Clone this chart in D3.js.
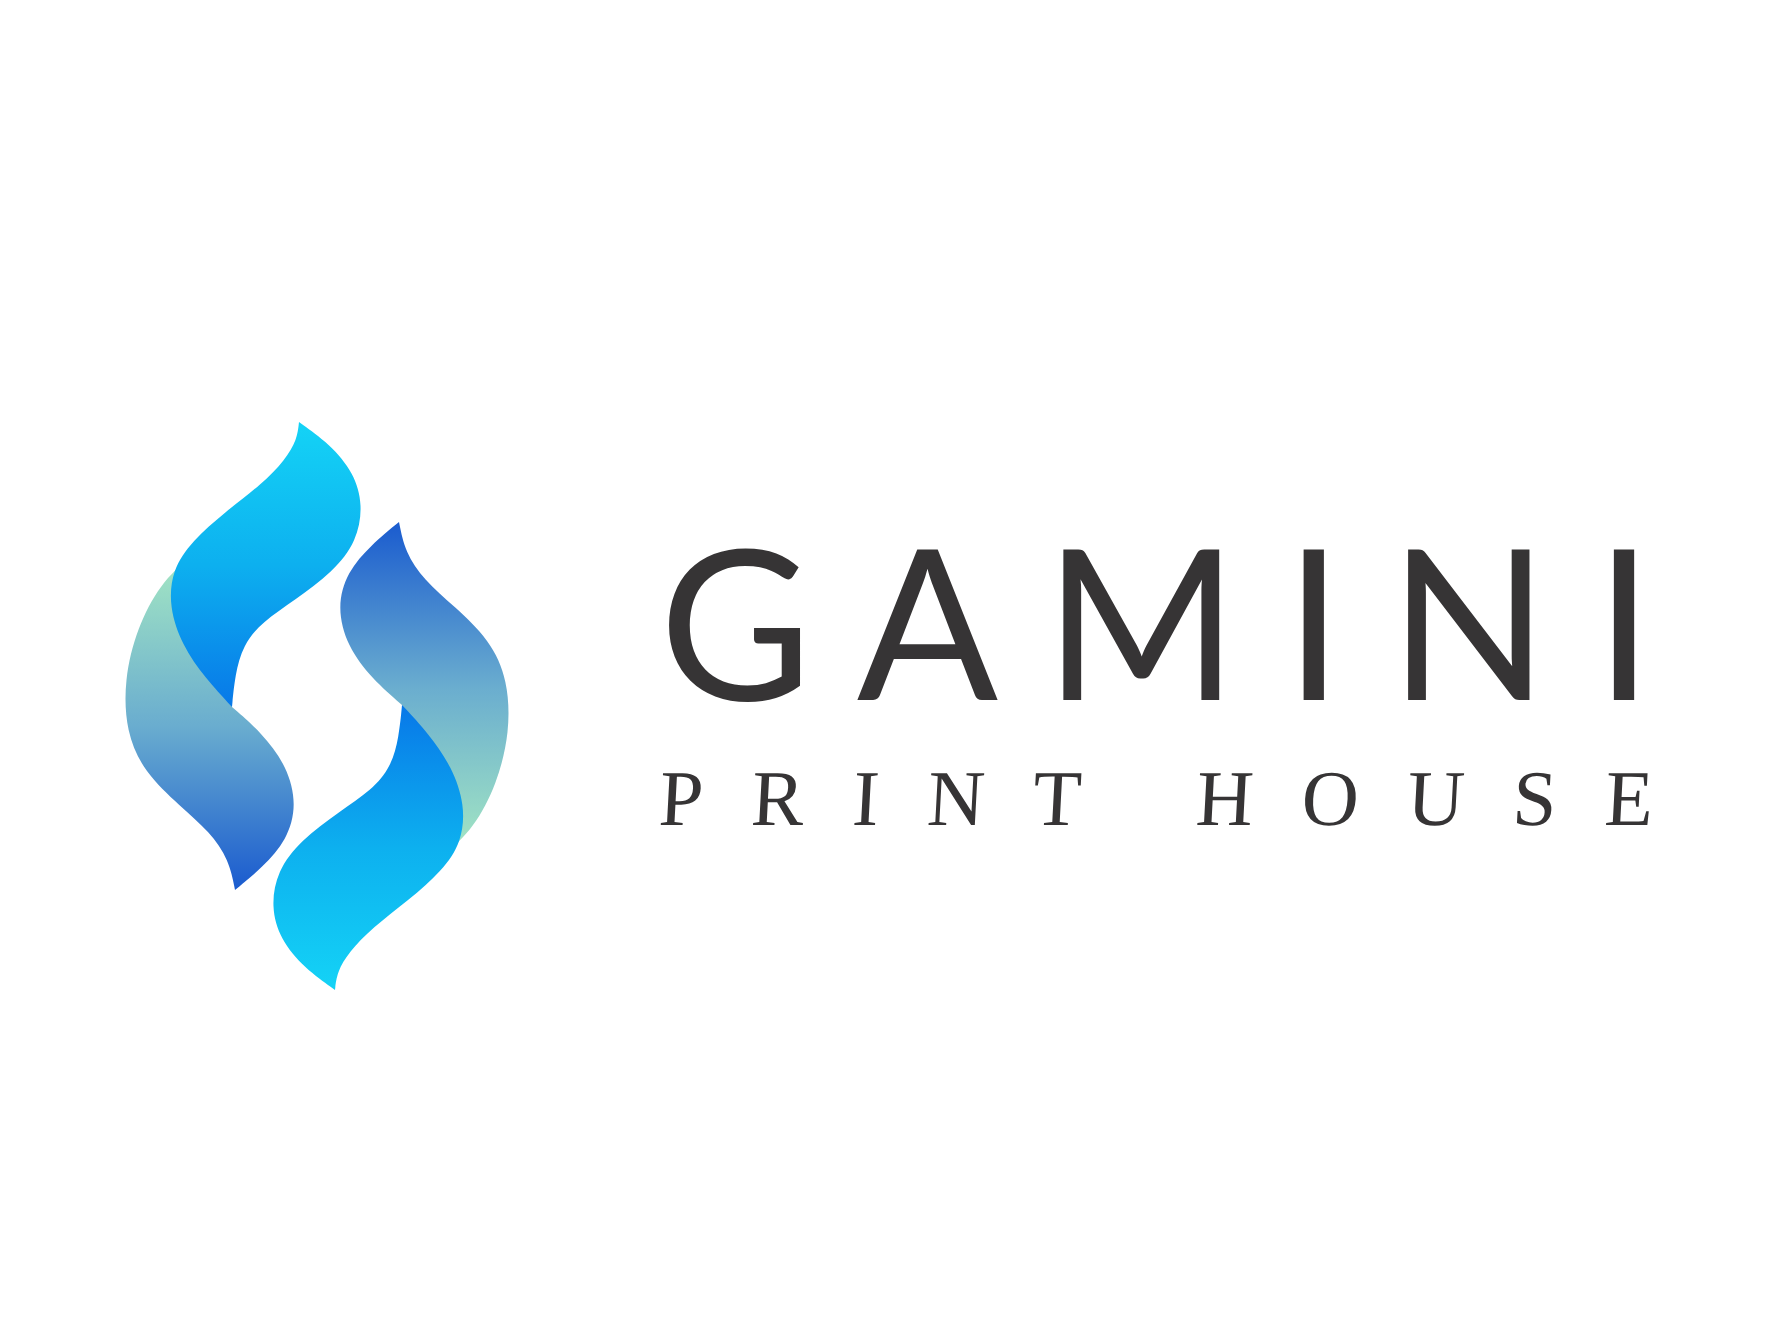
<!DOCTYPE html>
<html>
<head>
<meta charset="utf-8">
<title>Gamini Print House</title>
<script src="https://cdn.jsdelivr.net/npm/d3@7"></script>
<style>
  html, body { margin: 0; padding: 0; background: #fff; }
  svg { display: block; }
</style>
</head>
<body>
<svg id="logo"></svg>
<script>
// brand text
const brandName = "GAMINI";
const tagline = "PRINT HOUSE";

// leaf outlines (front leaf = cyan, back leaf = green/blue); the other pair is the same leaves turned 180deg
const frontRight = [[299,422],[330,444],[354,473],[363,505],[357,541],[333,572],[295,600],[262,622],[243,645],[235,675],[232,707]];
const frontLeft = [[232,707],[205,678],[182,645],[169,607],[172,570],[192,541],[225,512],[262,484],[285,460],[297,440],[299,422]];
const backLeft = [[232,528],[190,556],[160,584],[137,628],[124,680],[126,732],[144,772],[180,806],[210,832],[229,860],[235,890]];
const backRight = [[235,890],[263,867],[287,840],[297,805],[287,766],[262,733],[232,707]];
const backHidden = [[232,707],[226,692],[210,660],[190,620],[188,585],[205,550],[232,528]];

const frontStops = [[0, "#14d3f6"], [0.5, "#0db0ef"], [1, "#0878e8"]];
const backStops = [[0, "#a3e6c3"], [0.5, "#6aadcf"], [1, "#1a5bcf"]];

const width = 1783;
const height = 1341;
const pivot = [317, 706];

const svg = d3.select("#logo").attr("width", width).attr("height", height);
svg.append("rect").attr("width", width).attr("height", height).attr("fill", "#fff");

const defs = svg.append("defs");
function gradient(id, stops, y1, y2) {
  const g = defs.append("linearGradient")
    .attr("id", id)
    .attr("gradientUnits", "userSpaceOnUse")
    .attr("x1", 0).attr("x2", 0)
    .attr("y1", y1).attr("y2", y2);
  g.selectAll("stop").data(stops).enter().append("stop")
    .attr("offset", d => d[0])
    .attr("stop-color", d => d[1]);
}
gradient("frontGrad", frontStops, 422, 707);
gradient("backGrad", backStops, 560, 890);

const smooth = d3.line().curve(d3.curveBasis);
const straight = d3.line();
const join = (...parts) => parts.map((p, i) => i ? p.replace(/^M/, "L") : p).join("") + "Z";

const frontPath = join(smooth(frontRight), smooth(frontLeft));
const backPath = join(smooth(backLeft), smooth(backRight), straight(backHidden));

const leaves = [
  { d: backPath, fill: "url(#backGrad)", turn: 0 },
  { d: backPath, fill: "url(#backGrad)", turn: 180 },
  { d: frontPath, fill: "url(#frontGrad)", turn: 0 },
  { d: frontPath, fill: "url(#frontGrad)", turn: 180 }
];

svg.append("g").selectAll("path")
  .data(leaves)
  .enter()
  .append("path")
  .attr("d", d => d.d)
  .attr("fill", d => d.fill)
  .attr("transform", d => `rotate(${d.turn},${pivot[0]},${pivot[1]})`);

// spread the letters so first and last glyph centres land where they should
function spread(sel, firstCenter, lastCenter) {
  const node = sel.node();
  const n = node.getNumberOfChars();
  const a = node.getExtentOfChar(0);
  const b = node.getExtentOfChar(n - 1);
  const span = (b.x + b.width / 2) - (a.x + a.width / 2);
  const gap = ((lastCenter - firstCenter) - span) / (n - 1);
  sel.attr("letter-spacing", gap);
  const a2 = node.getExtentOfChar(0);
  const shift = firstCenter - (a2.x + a.width / 2);
  sel.attr("x", +sel.attr("x") + shift);
}

const name = svg.append("text")
  .attr("x", 660)
  .attr("y", 700)
  .attr("font-family", "Lato, 'Open Sans', sans-serif")
  .attr("font-size", 209)
  .attr("font-weight", 400)
  .attr("fill", "#363435")
  .text(brandName);
spread(name, 735, 1624);

// tagline: light serif, leaned just a touch
const line2 = svg.append("g")
  .attr("transform", "translate(0,825) skewX(-3)")
  .append("text")
  .attr("x", 660)
  .attr("y", 0)
  .attr("font-family", "'Liberation Serif', 'DejaVu Serif', serif")
  .attr("font-size", 79)
  .attr("fill", "#363435")
  .text(tagline);
spread(line2, 680, 1628);
</script>
</body>
</html>
